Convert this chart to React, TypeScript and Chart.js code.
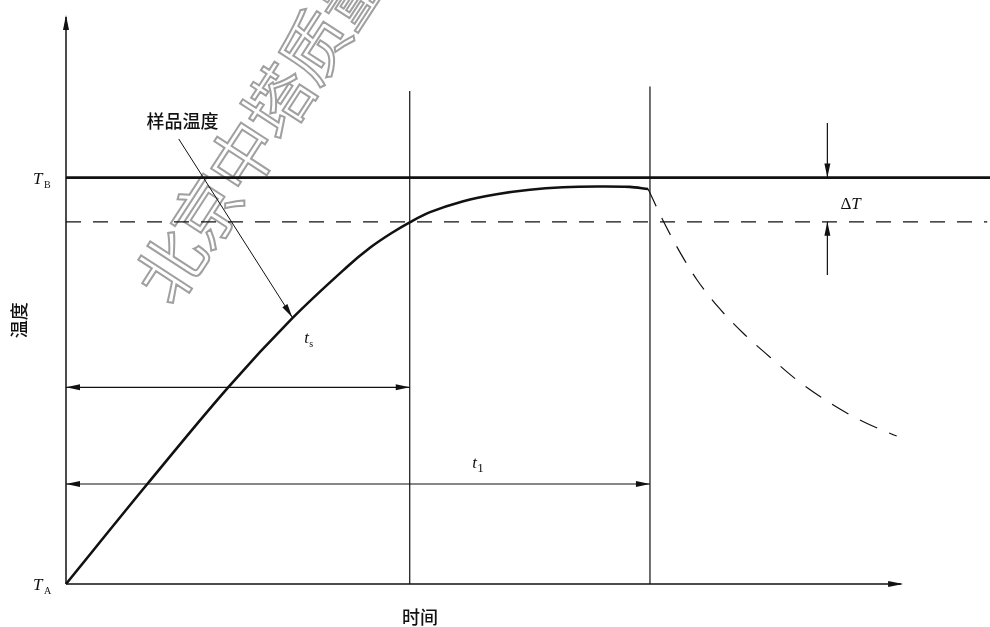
import React, { useEffect, useRef } from "react";
import { Chart, registerables } from "chart.js";

Chart.register(...registerables);

// Time axis in arbitrary units (0..100), temperature: T_A = 0, T_B = 100
const timeRange = [0, 100];
const tempRange = [0, 140];
const T_A = 0;
const T_B = 100;
const T_lower = 89.1; // T_B − ΔT
const t_s = 37.2;
const t_1 = 63.2;
const timeAxisEnd = 90.6;
const tsTop = 121.3;
const t1Top = 122.4;

// sample temperature curve (heating, solid)
const sampleTime = [0, 8.8, 17.6, 24.5, 30.4, 33.0, 35.2, 37.2, 39.4, 43.0, 46.6, 50.2, 53.8, 57.5, 61.0, 63.0];
const sampleTemp = [0, 24.6, 48.5, 65.4, 78.0, 82.9, 86.3, 89.0, 91.5, 94.2, 95.9, 97.0, 97.6, 97.8, 97.7, 97.2];

// cooling curve after t_1 (dashed)
const coolTime = [63.0, 64.6, 66.5, 68.3, 70.6, 73.3, 76.2, 79.1, 82.7, 86.3, 89.9];
const coolTemp = [97.2, 89.5, 81.4, 74.8, 68.1, 61.7, 55.8, 50.2, 44.5, 39.9, 36.4];

// ΔT dimension marker
const deltaX = 82.4;
const deltaTopStart = 113.4;
const deltaBottomEnd = 76.0;

// dimension arrows for t_s and t_1
const tsArrowTemp = 48.4;
const t1ArrowTemp = 24.6;

// leader for "样品温度"
const leaderStart = { x: 12.2, y: 109.5 };
const leaderEnd = { x: 24.5, y: 65.6 };

const INK = "#111";
const CJK = '"Noto Sans CJK SC", sans-serif';
const SERIF = '"Liberation Serif", "DejaVu Serif", serif';

function zip(xs: number[], ys: number[]) {
  return xs.map((x, i) => ({ x, y: ys[i] }));
}

function arrowHead(ctx: CanvasRenderingContext2D, tx: number, ty: number, angle: number, len = 14, half = 3) {
  ctx.save();
  ctx.translate(tx, ty);
  ctx.rotate(angle);
  ctx.beginPath();
  ctx.moveTo(0, 0);
  ctx.lineTo(-len, -half);
  ctx.lineTo(-len, half);
  ctx.closePath();
  ctx.fillStyle = INK;
  ctx.fill();
  ctx.restore();
}

function line(ctx: CanvasRenderingContext2D, x1: number, y1: number, x2: number, y2: number, w: number) {
  ctx.save();
  ctx.strokeStyle = INK;
  ctx.lineWidth = w;
  ctx.beginPath();
  ctx.moveTo(x1, y1);
  ctx.lineTo(x2, y2);
  ctx.stroke();
  ctx.restore();
}

const watermarkPlugin = {
  id: "watermark",
  beforeDatasetsDraw(chart: any) {
    const ctx: CanvasRenderingContext2D = chart.ctx;
    const chars = ["北", "京", "中", "塔", "质", "量"];
    const angle = (-57 * Math.PI) / 180;
    ctx.save();
    ctx.font = `68px ${CJK}`;
    ctx.textAlign = "center";
    ctx.textBaseline = "middle";
    ctx.strokeStyle = "#a0a0a0";
    ctx.lineWidth = 2;
    chars.forEach((c, i) => {
      const cx = 170 + i * 36;
      const cy = 266 - i * 55;
      ctx.save();
      ctx.translate(cx, cy);
      ctx.rotate(angle);
      ctx.strokeText(c, 0, 0);
      ctx.restore();
    });
    ctx.restore();
  },
};

const annotationPlugin = {
  id: "annotations",
  afterDatasetsDraw(chart: any) {
    const ctx: CanvasRenderingContext2D = chart.ctx;
    const xs = chart.scales.x;
    const ys = chart.scales.y;
    const X = (v: number) => xs.getPixelForValue(v);
    const Y = (v: number) => ys.getPixelForValue(v);

    // axes with arrows
    const ox = X(0);
    const oy = Y(T_A);
    line(ctx, ox, oy, ox, Y(tempRange[1]) + 2, 1.5);
    arrowHead(ctx, ox, Y(tempRange[1]), -Math.PI / 2, 15, 3);
    line(ctx, ox, oy, X(timeAxisEnd) - 2, oy, 1.5);
    arrowHead(ctx, X(timeAxisEnd), oy, 0, 15, 3);

    // t_s dimension arrow
    const yts = Y(tsArrowTemp);
    line(ctx, ox, yts, X(t_s), yts, 1.2);
    arrowHead(ctx, ox, yts, Math.PI);
    arrowHead(ctx, X(t_s), yts, 0);

    // t_1 dimension arrow
    const yt1 = Y(t1ArrowTemp);
    line(ctx, ox, yt1, X(t_1), yt1, 1.2);
    arrowHead(ctx, ox, yt1, Math.PI);
    arrowHead(ctx, X(t_1), yt1, 0);

    // ΔT markers
    const dx = X(deltaX);
    line(ctx, dx, Y(deltaTopStart), dx, Y(T_B), 1.2);
    arrowHead(ctx, dx, Y(T_B), Math.PI / 2);
    line(ctx, dx, Y(deltaBottomEnd), dx, Y(T_lower), 1.2);
    arrowHead(ctx, dx, Y(T_lower), -Math.PI / 2);

    // leader line for sample temperature
    const lx1 = X(leaderStart.x), ly1 = Y(leaderStart.y);
    const lx2 = X(leaderEnd.x), ly2 = Y(leaderEnd.y);
    line(ctx, lx1, ly1, lx2, ly2, 1);
    arrowHead(ctx, lx2, ly2, Math.atan2(ly2 - ly1, lx2 - lx1), 14, 3);

    ctx.save();
    ctx.fillStyle = INK;
    ctx.textBaseline = "alphabetic";

    // T_B and T_A labels
    const drawT = (x: number, y: number, sub: string) => {
      ctx.font = `italic 17px ${SERIF}`;
      ctx.textAlign = "left";
      ctx.fillText("T", x, y);
      ctx.font = `10px ${SERIF}`;
      ctx.fillText(sub, x + 11, y + 4);
    };
    drawT(ox - 33, Y(T_B) + 6, "B");
    drawT(ox - 33, Y(T_A) + 6, "A");

    // ΔT label
    ctx.font = `17px ${SERIF}`;
    const dW = ctx.measureText("Δ").width;
    ctx.fillText("Δ", dx + 13, Y(93.7) + 6);
    ctx.font = `italic 17px ${SERIF}`;
    ctx.fillText("T", dx + 13 + dW, Y(93.7) + 6);

    // t_s and t_1 labels
    const drawt = (x: number, y: number, sub: string, subSize: number) => {
      ctx.font = `italic 17px ${SERIF}`;
      ctx.fillText("t", x, y);
      ctx.font = `${subSize}px ${SERIF}`;
      ctx.fillText(sub, x + 5, y + 4);
    };
    drawt(X(26.1) - 3, Y(60.5) + 5, "s", 10);
    drawt(X(44.3) - 3, Y(29.8) + 5, "1", 13);

    // CJK labels
    ctx.font = `500 18px ${CJK}`;
    ctx.textAlign = "center";
    ctx.textBaseline = "middle";
    ctx.fillText("样品温度", X(12.6), Y(113.9));
    ctx.fillText("时间", X(38.3), oy + 33);

    ctx.save();
    ctx.translate(19, Y(64.9));
    ctx.rotate(-Math.PI / 2);
    ctx.fillText("温度", 0, 0);
    ctx.restore();

    ctx.restore();
  },
};

export default function App() {
  const ref = useRef<HTMLCanvasElement | null>(null);

  useEffect(() => {
    if (!ref.current) return;
    const chart = new Chart(ref.current, {
      type: "scatter",
      data: {
        datasets: [
          {
            label: "T_B",
            data: zip([timeRange[0], timeRange[1]], [T_B, T_B]),
            borderColor: INK,
            borderWidth: 2.8,
            showLine: true,
            pointRadius: 0,
            clip: false as any,
          },
          {
            label: "T_B - ΔT",
            data: zip([timeRange[0], 99.7], [T_lower, T_lower]),
            borderColor: INK,
            borderWidth: 1.2,
            borderDash: [15, 12],
            showLine: true,
            pointRadius: 0,
            clip: false as any,
          },
          {
            label: "t_s",
            data: zip([t_s, t_s], [T_A, tsTop]),
            borderColor: INK,
            borderWidth: 1.2,
            showLine: true,
            pointRadius: 0,
            clip: false as any,
          },
          {
            label: "t_1",
            data: zip([t_1, t_1], [T_A, t1Top]),
            borderColor: INK,
            borderWidth: 1.2,
            showLine: true,
            pointRadius: 0,
            clip: false as any,
          },
          {
            label: "样品温度",
            data: zip(sampleTime, sampleTemp),
            borderColor: INK,
            borderWidth: 2.6,
            showLine: true,
            pointRadius: 0,
            tension: 0.35,
            clip: false as any,
          },
          {
            label: "冷却",
            data: zip(coolTime, coolTemp),
            borderColor: INK,
            borderWidth: 1.2,
            borderDash: [19, 13],
            showLine: true,
            pointRadius: 0,
            cubicInterpolationMode: "monotone",
            clip: false as any,
          },
        ],
      },
      options: {
        animation: false,
        responsive: false,
        devicePixelRatio: 1,
        layout: { padding: { left: 66, right: 0, top: 15, bottom: 43 } },
        plugins: {
          legend: { display: false },
          tooltip: { enabled: false },
          title: { display: false },
        },
        scales: {
          x: { type: "linear", min: timeRange[0], max: timeRange[1], display: false },
          y: { type: "linear", min: tempRange[0], max: tempRange[1], display: false },
        },
      },
      plugins: [watermarkPlugin, annotationPlugin],
    });
    return () => chart.destroy();
  }, []);

  return (
    <div style={{ position: "fixed", left: 0, top: 0, width: 990, height: 627, background: "#fff" }}>
      <canvas ref={ref} width={990} height={627} style={{ width: 990, height: 627 }} />
    </div>
  );
}
